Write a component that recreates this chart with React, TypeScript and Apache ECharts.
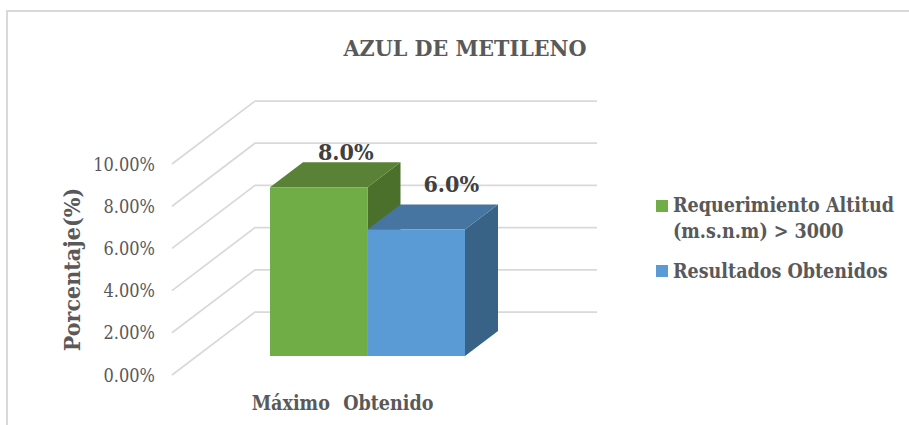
import React, { useEffect, useRef } from "react";
import * as echarts from "echarts";

const categories = ["Máximo", "Obtenido"];
const seriesNames = ["Requerimiento Altitud\n(m.s.n.m) > 3000", "Resultados Obtenidos"];
const requerimiento = [8, null];
const resultados = [null, 6];
const ticks = [0, 2, 4, 6, 8, 10];
const title = "AZUL DE METILENO";
const FONT = "'DejaVu Serif Condensed', 'DejaVu Serif', serif";
const GREEN = "#70ad47";
const BLUE = "#5b9bd5";

const WALL_DX = 83, WALL_DY = -63, LEFT_EXT = 72, BACK_RIGHT = 597;
const BAR_DX = 26, BAR_DY = -19, DEPTH_X = 33, DEPTH_Y = -25;

function barRender(front: string, top: string, side: string, labelDx: number, labelDy: number) {
  return (params: any, api: any) => {
    const v = api.value(1);
    if (v == null || isNaN(v)) return null;
    const base = api.coord([api.value(0), 0]);
    const head = api.coord([api.value(0), v]);
    const w = api.size([1, 0])[0];
    const x0 = base[0] - w / 2 + BAR_DX;
    const x1 = x0 + w;
    const yb = base[1] + BAR_DY;
    const yt = head[1] + BAR_DY;
    const ex = { stroke: "none" };
    return {
      type: "group",
      children: [
        { type: "polygon", shape: { points: [[x1, yt], [x1 + DEPTH_X, yt + DEPTH_Y], [x1 + DEPTH_X, yb + DEPTH_Y], [x1, yb]] }, style: { fill: side, ...ex } },
        { type: "polygon", shape: { points: [[x0, yt], [x0 + DEPTH_X, yt + DEPTH_Y], [x1 + DEPTH_X, yt + DEPTH_Y], [x1, yt]] }, style: { fill: top, ...ex } },
        { type: "rect", shape: { x: x0, y: yt, width: w, height: yb - yt }, style: { fill: front, ...ex } },
        {
          type: "text",
          style: {
            text: v.toFixed(1) + "%",
            x: x0 + w / 2 + labelDx,
            y: yt + labelDy,
            align: "center",
            verticalAlign: "middle",
            font: `bold 23px ${FONT}`,
            fill: "#404040",
          },
        },
      ],
    };
  };
}

const legendFont = `bold 19.5px ${FONT}`;
const legendColor = "#595959";

export default function App() {
  const ref = useRef<HTMLDivElement>(null);
  useEffect(() => {
    document.body.style.margin = "0";
    const chart = echarts.init(ref.current!, undefined, { renderer: "svg" });
    chart.setOption({
      animation: false,
      backgroundColor: "#ffffff",
      title: {
        text: title,
        left: 460,
        top: 31,
        textAlign: "center",
        textStyle: { fontFamily: FONT, fontWeight: "bold", fontSize: 23, color: "#595959" },
      },
      graphic: [
        { type: "rect", silent: true, z: -1, shape: { x: 7, y: 11, width: 1000, height: 600 }, style: { fill: "none", stroke: "#d9d9d9", lineWidth: 2 } },
        { type: "rect", silent: true, shape: { x: 656, y: 200, width: 12, height: 12 }, style: { fill: GREEN } },
        { type: "text", silent: true, style: { text: seriesNames[0], x: 673, y: 218, verticalAlign: "middle", font: legendFont, lineHeight: 26, fill: legendColor } },
        { type: "rect", silent: true, shape: { x: 656, y: 265, width: 12, height: 12 }, style: { fill: BLUE } },
        { type: "text", silent: true, style: { text: seriesNames[1], x: 673, y: 271, verticalAlign: "middle", font: legendFont, lineHeight: 26, fill: legendColor } },
      ],
      grid: { left: 244, width: 195, top: 164, height: 211 },
      xAxis: {
        type: "category",
        data: categories,
        axisLine: { show: false },
        axisTick: { show: false },
        axisLabel: { margin: 18, interval: 0, padding: [0, 4, 0, 0], fontFamily: FONT, fontWeight: "bold", fontSize: 19.5, color: "#595959" },
      },
      yAxis: {
        type: "value",
        min: 0,
        max: 10,
        interval: 2,
        offset: 83,
        axisLine: { show: false },
        axisTick: { show: false },
        splitLine: { show: false },
        axisLabel: { margin: 6, padding: [4, 0, 0, 0], fontFamily: FONT, fontSize: 18, color: "#595959", formatter: (v: number) => v.toFixed(2) + "%" },
        name: "Porcentaje(%)",
        nameLocation: "middle",
        nameGap: 78,
        nameTextStyle: { fontFamily: FONT, fontWeight: "bold", fontSize: 23, color: "#595959" },
      },
      series: [
        {
          type: "custom",
          name: "gridlines",
          silent: true,
          z: 1,
          data: ticks.map((t) => [0, t]),
          encode: { x: 0, y: 1 },
          renderItem: (params: any, api: any) => {
            const p = api.coord([0, api.value(1)]);
            const left = params.coordSys.x - LEFT_EXT;
            return {
              type: "polyline",
              shape: { points: [[left, p[1]], [left + WALL_DX, p[1] + WALL_DY], [BACK_RIGHT, p[1] + WALL_DY]] },
              style: { fill: "none", stroke: "#d9d9d9", lineWidth: 1.75 },
            };
          },
        },
        {
          type: "custom",
          name: seriesNames[0],
          z: 2,
          itemStyle: { color: GREEN },
          data: requerimiento.map((v, i) => [i, v]),
          encode: { x: 0, y: 1 },
          renderItem: barRender(GREEN, "#5a8236", "#4a702b", 27, -36),
        },
        {
          type: "custom",
          name: seriesNames[1],
          z: 3,
          itemStyle: { color: BLUE },
          data: resultados.map((v, i) => [i, v]),
          encode: { x: 0, y: 1 },
          renderItem: barRender(BLUE, "#4675a1", "#396287", 35, -46),
        },
      ],
    });
    return () => chart.dispose();
  }, []);
  return <div ref={ref} style={{ position: "absolute", left: 0, top: 0, width: 909, height: 425 }} />;
}
